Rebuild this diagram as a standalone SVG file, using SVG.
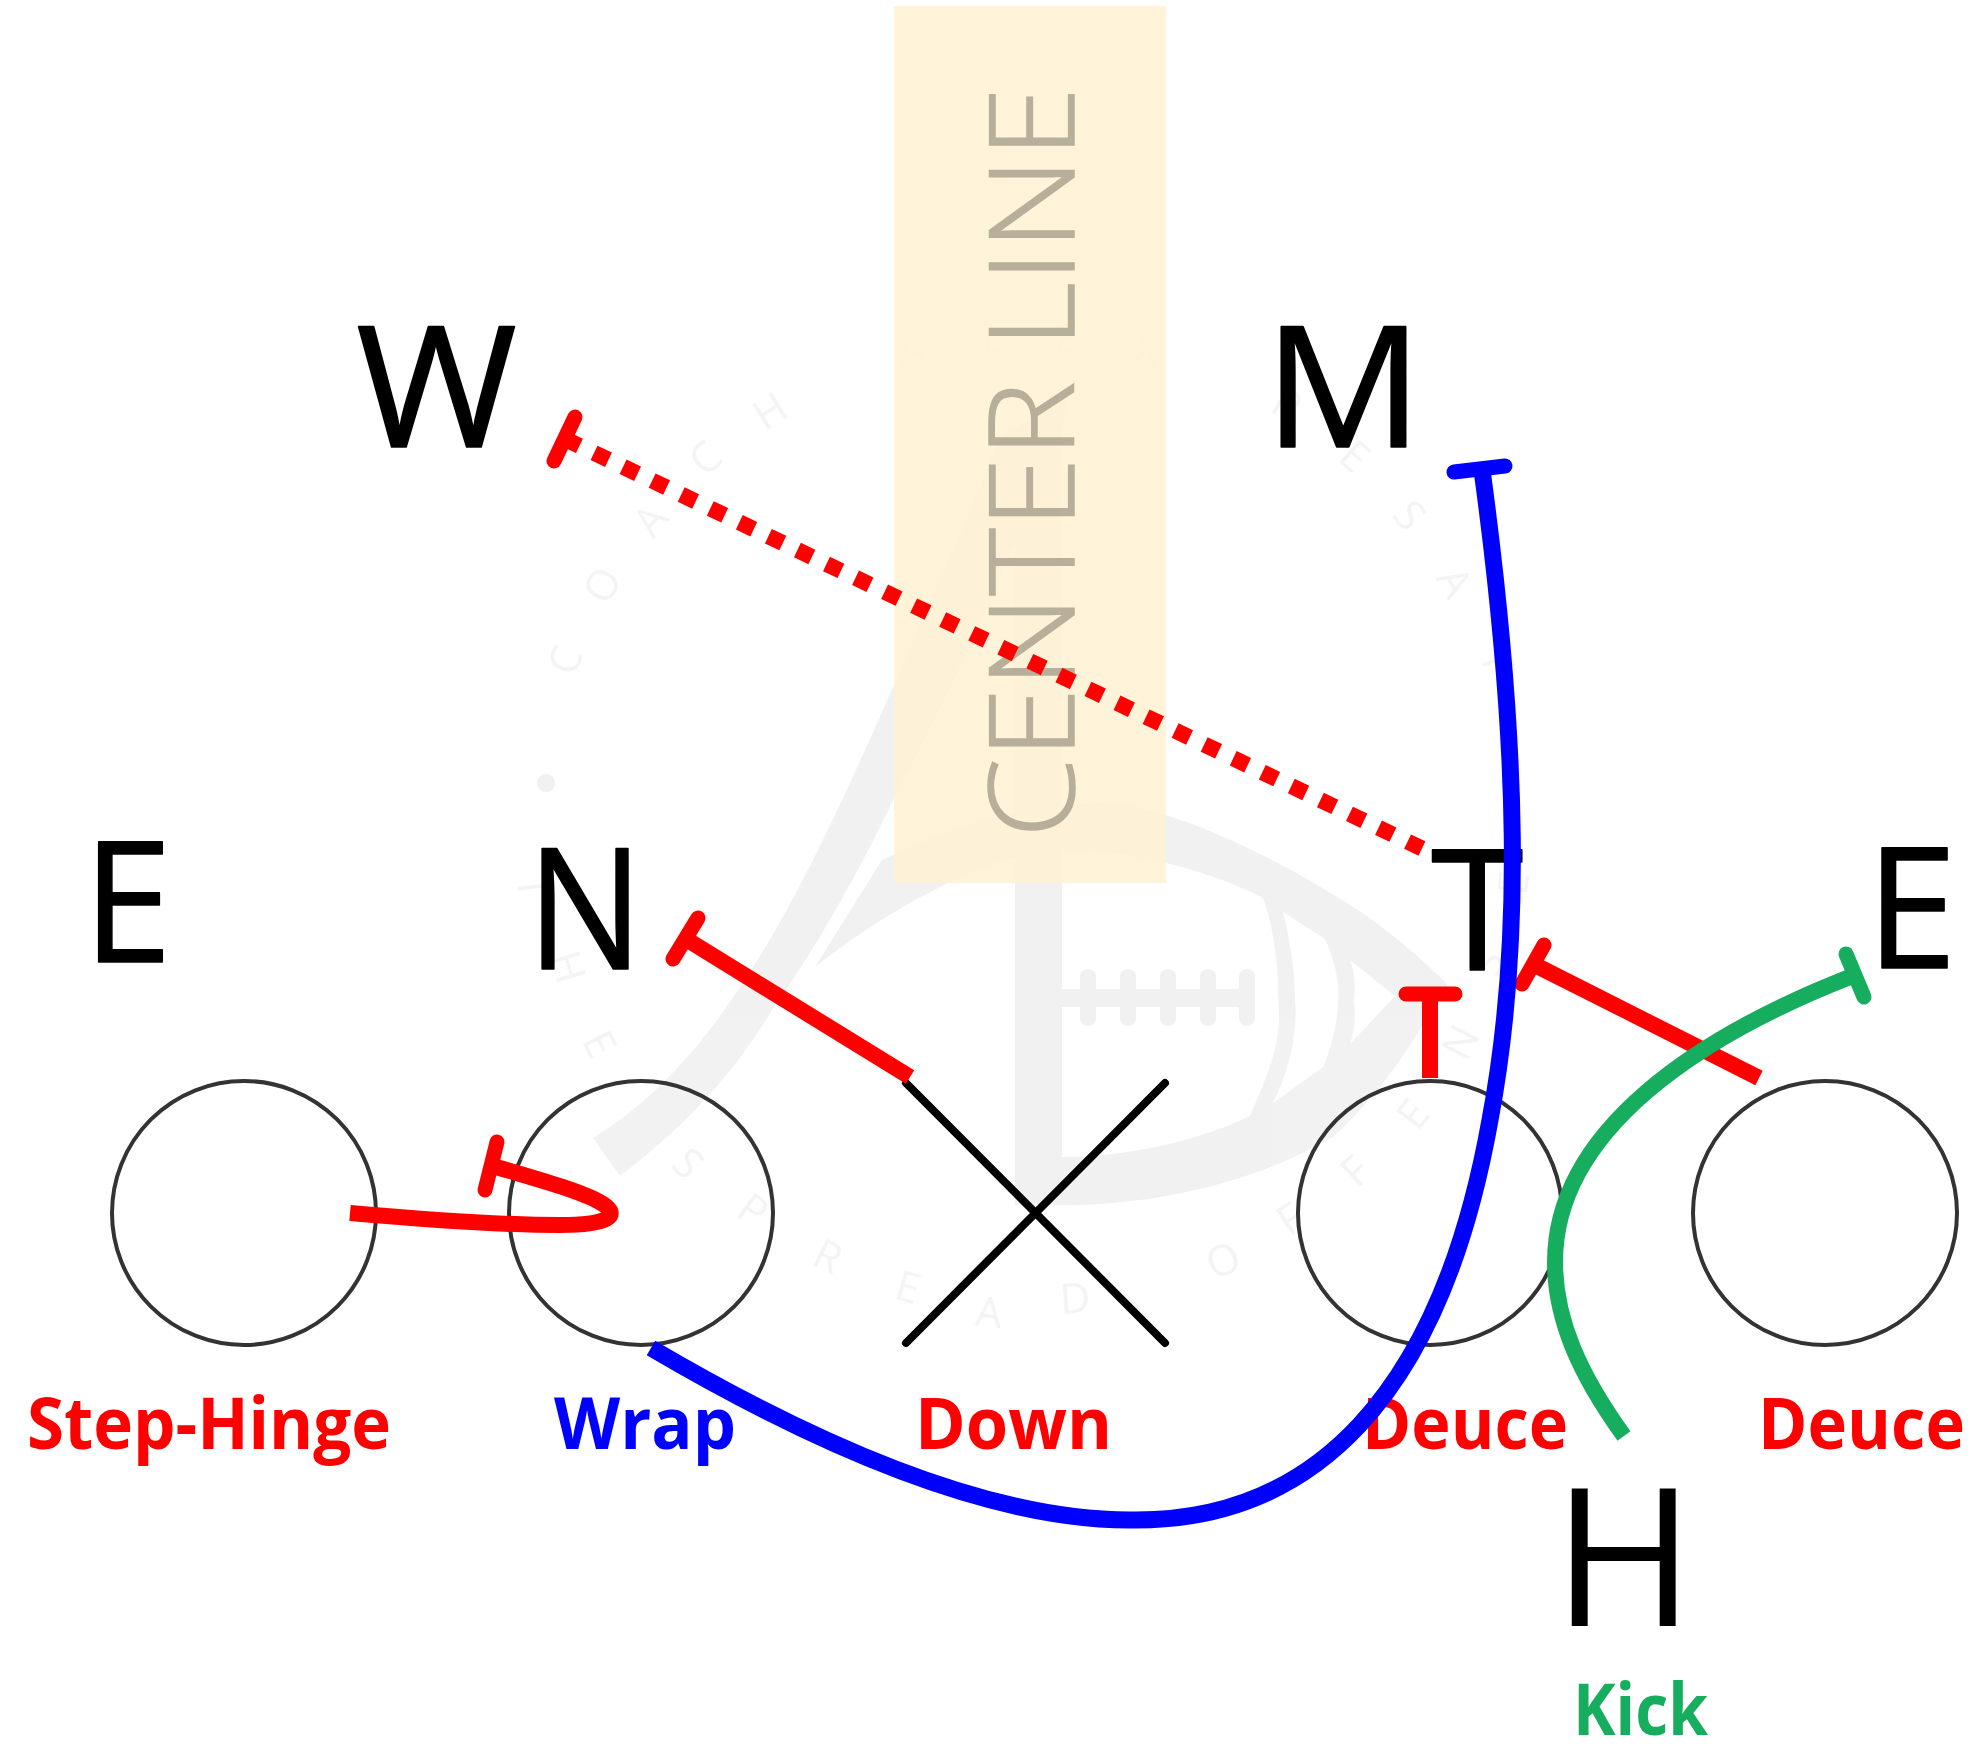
<svg xmlns="http://www.w3.org/2000/svg" width="1979" height="1744" viewBox="0 0 1979 1744">
<style>
.pl{font-family:"Open Sans","Noto Sans",sans-serif;fill:#000;stroke:#000;stroke-width:1.5;stroke-linejoin:round;font-size:168px}
.lb{font-family:"Open Sans","Noto Sans",sans-serif;font-weight:700;font-size:71px}
.wm{font-family:"Open Sans","Noto Sans",sans-serif;font-size:42px;text-anchor:middle;fill:#000;opacity:.04}
.c{fill:none;stroke:#333;stroke-width:4}
.k{fill:none;stroke-width:16}
.bar{fill:none;stroke-width:15;stroke-linecap:round}
.r{stroke:#f00}.b{stroke:#00f}.g{stroke:#17ad5f}
</style>
<rect width="1979" height="1744" fill="#fff"/>
<g id="watermark">
<g opacity=".05" fill="#000">
<path d="M593,1138C720,1060 800,900 893,687C940,580 975,500 1000,437L1067,395L1062,437L1062,547L1015,547L1013,547C985,620 935,720 893,800C860,870 815,950 772,1010C730,1080 680,1130 620,1176Z"/>
<rect x="1015" y="540" width="47" height="665"/>
<path fill-rule="evenodd" d="M815,967L882,860C950,825 1030,806 1100,803C1160,803 1267,850 1367,916C1400,940 1425,962 1447,984C1420,1030 1390,1085 1333,1137C1260,1180 1160,1205 1063,1205L1040,1205L1040,1157L1063,1157C1130,1157 1200,1140 1250,1116C1270,1070 1283,1040 1278,994C1278,960 1273,925 1263,898C1210,870 1130,850 1063,850C1000,850 900,900 815,967ZM1283,912L1325,939C1335,960 1340,985 1338,1001C1338,1025 1330,1050 1323,1067L1273,1103C1290,1070 1298,1030 1295,1001C1295,970 1290,940 1283,912ZM1350,960L1395,996L1350,1044C1355,1030 1356,1015 1354,1001C1356,985 1354,970 1350,960Z"/>
<rect x="1062" y="989" width="193" height="18"/>
<rect x="1080" y="969" width="16" height="57" rx="8"/>
<rect x="1120" y="969" width="16" height="57" rx="8"/>
<rect x="1160" y="969" width="16" height="57" rx="8"/>
<rect x="1200" y="969" width="16" height="57" rx="8"/>
<rect x="1239" y="969" width="16" height="57" rx="8"/>
<circle cx="546" cy="783" r="9"/>
<circle cx="1510" cy="783" r="9"/>
</g>
<text class="wm" transform="translate(565,660) rotate(-70.6)" y="15">C</text>
<text class="wm" transform="translate(602,585) rotate(-61)" y="15">O</text>
<text class="wm" transform="translate(650,520) rotate(-51.6)" y="15">A</text>
<text class="wm" transform="translate(705,458) rotate(-42)" y="15">C</text>
<text class="wm" transform="translate(770,411) rotate(-32.6)" y="15">H</text>
<text class="wm" transform="translate(910,350) rotate(-14.7)" y="15">A</text>
<text class="wm" transform="translate(992,338) rotate(-5)" y="15">L</text>
<text class="wm" transform="translate(1067,338) rotate(3.8)" y="15">E</text>
<text class="wm" transform="translate(1147,350) rotate(13.3)" y="15">X</text>
<text class="wm" transform="translate(1287,404) rotate(30.9)" y="15">R</text>
<text class="wm" transform="translate(1355,456) rotate(40.9)" y="15">E</text>
<text class="wm" transform="translate(1410,515) rotate(50.4)" y="15">S</text>
<text class="wm" transform="translate(1455,582) rotate(60)" y="15">A</text>
<text class="wm" transform="translate(1497,660) rotate(70.3)" y="15">T</text>
<text class="wm" transform="translate(533,887) rotate(83)" y="15">T</text>
<text class="wm" transform="translate(568,967) rotate(73)" y="15">H</text>
<text class="wm" transform="translate(600,1044) rotate(63.3)" y="15">E</text>
<text class="wm" transform="translate(688,1163) rotate(45.8)" y="15">S</text>
<text class="wm" transform="translate(753,1210) rotate(36)" y="15">P</text>
<text class="wm" transform="translate(828,1256) rotate(25.6)" y="15">R</text>
<text class="wm" transform="translate(908,1287) rotate(15.4)" y="15">E</text>
<text class="wm" transform="translate(989,1312) rotate(5.4)" y="15">A</text>
<text class="wm" transform="translate(1075,1298) rotate(-4.8)" y="15">D</text>
<text class="wm" transform="translate(1223,1260) rotate(-23.4)" y="15">O</text>
<text class="wm" transform="translate(1290,1219) rotate(-33)" y="15">F</text>
<text class="wm" transform="translate(1355,1171) rotate(-42.8)" y="15">F</text>
<text class="wm" transform="translate(1413,1114) rotate(-52.6)" y="15">E</text>
<text class="wm" transform="translate(1460,1042) rotate(-63)" y="15">N</text>
<text class="wm" transform="translate(1487,963) rotate(-73)" y="15">S</text>
<text class="wm" transform="translate(1513,883) rotate(-83)" y="15">E</text>
</g>
<rect id="center-band" x="894" y="6" width="272" height="877" fill="#fff2d2" fill-opacity=".85"/>
<text id="center-line" transform="translate(1074,838) rotate(-90)" font-family="'Open Sans','Noto Sans',sans-serif" font-weight="300" font-size="118" fill="#b8af9b" stroke="#b8af9b" stroke-width="1.5" textLength="751" lengthAdjust="spacingAndGlyphs">CENTER LINE</text>

<g id="node-lt"><circle class="c" cx="244" cy="1213" r="132"/></g>
<g id="node-lg"><circle class="c" cx="641" cy="1213" r="132"/></g>
<g id="node-rg"><circle class="c" cx="1430" cy="1213" r="132"/></g>
<g id="node-rt"><circle class="c" cx="1825" cy="1213" r="132"/></g>
<g id="node-center"><path d="M906,1083L1165,1343M906,1343L1165,1083" fill="none" stroke="#000" stroke-width="8" stroke-linecap="round"/></g>

<g id="player-W"><text class="pl" x="356" y="447" textLength="161" lengthAdjust="spacingAndGlyphs">W</text></g>
<g id="player-M"><text class="pl" x="1264" y="447" textLength="159" lengthAdjust="spacingAndGlyphs">M</text></g>
<g id="player-E1"><text class="pl" x="83" y="962" textLength="89" lengthAdjust="spacingAndGlyphs">E</text></g>
<g id="player-N"><text class="pl" x="527" y="969" textLength="116" lengthAdjust="spacingAndGlyphs">N</text></g>
<g id="player-T"><text class="pl" x="1431" y="970">T</text></g>
<g id="player-E2"><text class="pl" x="1866" y="968" textLength="91" lengthAdjust="spacingAndGlyphs">E</text></g>
<g id="player-H"><text x="1553" y="1626" font-size="192" font-family="'Open Sans','Noto Sans',sans-serif" fill="#000">H</text></g>

<g id="labels">
<text class="lb" x="27" y="1449" fill="#f00" textLength="364" lengthAdjust="spacingAndGlyphs">Step-Hinge</text>
<text class="lb" x="554" y="1449" fill="#00f" textLength="182" lengthAdjust="spacingAndGlyphs">Wrap</text>
<text class="lb" x="915" y="1449" fill="#f00" textLength="197" lengthAdjust="spacingAndGlyphs">Down</text>
<text class="lb" x="1362" y="1449" fill="#f00" textLength="206" lengthAdjust="spacingAndGlyphs">Deuce</text>
<text class="lb" x="1758" y="1449" fill="#f00" textLength="207" lengthAdjust="spacingAndGlyphs">Deuce</text>
<text class="lb" x="1573" y="1735" fill="#17ad5f" textLength="135" lengthAdjust="spacingAndGlyphs">Kick</text>
</g>

<g id="connectors">
<path class="k r" d="M350,1213C430,1220 500,1225 560,1225C610,1225 620,1215 603,1204C585,1192 540,1180 493,1166"/>
<path class="bar r" d="M497,1142L485,1190"/>
<path class="k r" d="M565,439L1423,849" stroke-dasharray="16 16.2"/>
<path class="bar r" d="M575,417L554,461"/>
<path class="k r" d="M910,1077L686,939"/>
<path class="bar r" d="M698,918L673,959"/>
<path class="k r" d="M1430,1078L1430,994"/>
<path class="bar r" d="M1406,994L1455,994"/>
<path class="k r" d="M1759,1078L1533,964"/>
<path class="bar r" d="M1544,945L1522,984"/>
<path class="k g" d="M1624,1436C1580,1375 1555,1320 1555,1262C1555,1130 1700,1035 1855,975"/>
<path class="bar g" d="M1846,954L1864,997"/>
<path class="k b" style="stroke-width:17" d="M651,1348C850,1465 1010,1522 1136,1520C1310,1520 1440,1400 1490,1120C1522,950 1520,750 1482,470"/>
<path class="bar b" d="M1454,472L1505,466"/>
</g>
</svg>
